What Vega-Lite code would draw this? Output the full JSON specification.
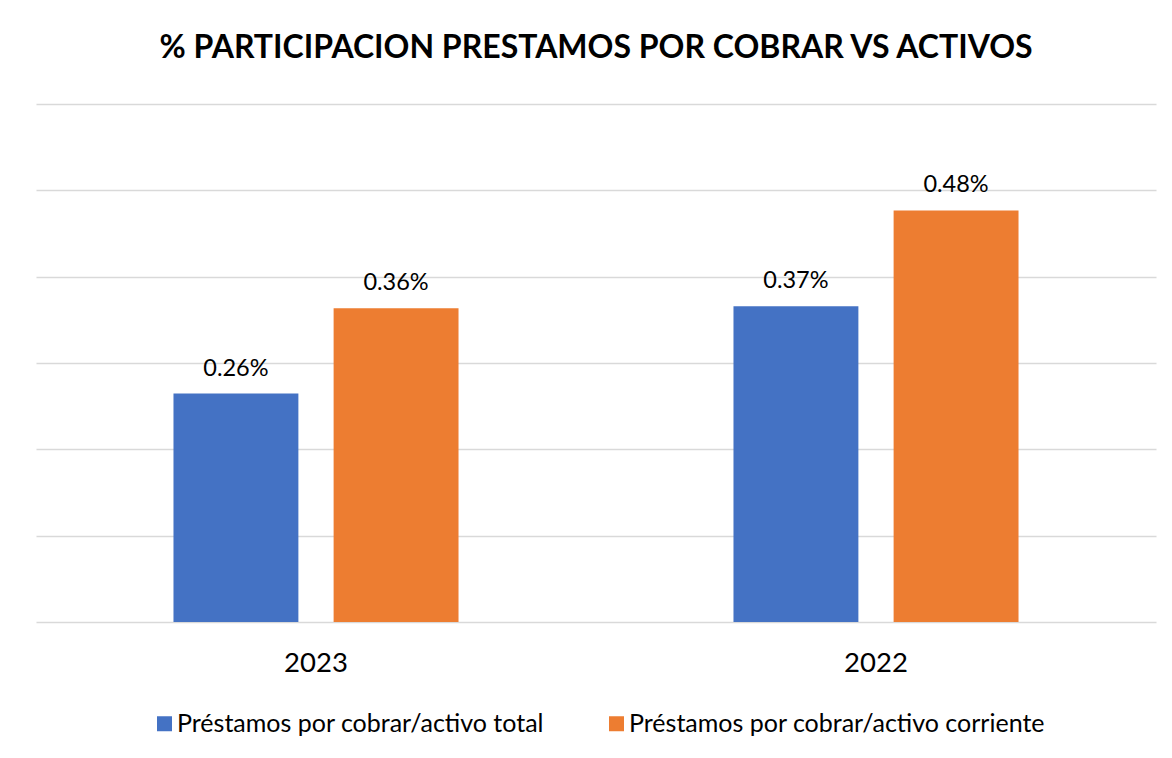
{
  "$schema": "https://vega.github.io/schema/vega-lite/v6.json",
  "width": 1120,
  "height": 518,
  "autosize": {"type": "none"},
  "padding": {"left": 36, "top": 104, "right": 16, "bottom": 136},
  "background": "white",
  "title": {
    "text": "% PARTICIPACION PRESTAMOS POR COBRAR VS ACTIVOS",
    "font": "Lato",
    "fontSize": 32,
    "fontWeight": "bold",
    "color": "#000000",
    "anchor": "middle",
    "offset": 39
  },
  "data": {
    "values": [
      {"year": "2023", "serie": "Préstamos por cobrar/activo total", "value": 0.002646},
      {"year": "2023", "serie": "Préstamos por cobrar/activo corriente", "value": 0.003633},
      {"year": "2022", "serie": "Préstamos por cobrar/activo total", "value": 0.003657},
      {"year": "2022", "serie": "Préstamos por cobrar/activo corriente", "value": 0.004767}
    ]
  },
  "encoding": {
    "x": {
      "field": "year",
      "type": "nominal",
      "sort": ["2023", "2022"],
      "scale": {"paddingInner": 0.491, "paddingOuter": 0.2455},
      "axis": {
        "title": null,
        "labelAngle": 0,
        "labelFont": "Lato",
        "labelFontSize": 27.5,
        "labelColor": "#000000",
        "labelPadding": 27,
        "ticks": false,
        "domain": false
      }
    },
    "xOffset": {
      "field": "serie",
      "type": "nominal",
      "sort": ["Préstamos por cobrar/activo total", "Préstamos por cobrar/activo corriente"],
      "scale": {"paddingInner": 0.22, "paddingOuter": 0}
    },
    "y": {
      "field": "value",
      "type": "quantitative",
      "scale": {"domain": [0, 0.006], "nice": false},
      "axis": {
        "title": null,
        "labels": false,
        "ticks": false,
        "domain": false,
        "values": [0, 0.001, 0.002, 0.003, 0.004, 0.005, 0.006],
        "gridColor": "#D9D9D9",
        "gridWidth": 1.5
      }
    }
  },
  "layer": [
    {
      "mark": {"type": "bar"},
      "encoding": {
        "color": {
          "field": "serie",
          "type": "nominal",
          "sort": ["Préstamos por cobrar/activo total", "Préstamos por cobrar/activo corriente"],
          "scale": {
            "domain": ["Préstamos por cobrar/activo total", "Préstamos por cobrar/activo corriente"],
            "range": ["#4472C4", "#ED7D31"]
          },
          "legend": {
            "title": null,
            "orient": "none",
            "direction": "horizontal",
            "legendX": 116,
            "legendY": 607,
            "symbolType": "square",
            "symbolSize": 225,
            "symbolStrokeWidth": 0,
            "labelFont": "Lato",
            "labelFontSize": 25,
            "labelColor": "#000000",
            "labelOffset": 0,
            "columnPadding": 59,
            "labelLimit": 600
          }
        }
      }
    },
    {
      "mark": {"type": "text", "font": "Lato", "fontSize": 23.5, "color": "#000000", "baseline": "alphabetic", "dy": -18},
      "encoding": {
        "text": {"field": "value", "type": "quantitative", "format": ".2%"}
      }
    }
  ],
  "config": {"view": {"stroke": null}}
}
